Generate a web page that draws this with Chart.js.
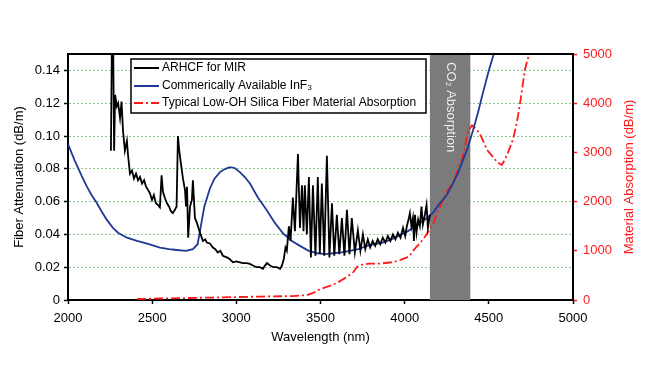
<!DOCTYPE html>
<html>
<head>
<meta charset="utf-8">
<script src="https://cdn.jsdelivr.net/npm/chart.js@4.4.0/dist/chart.umd.min.js"></script>
<style>
  body { margin: 0; background: #fff; }
  canvas { display: block; }
</style>
</head>
<body>
<canvas id="myChart" width="650" height="371"></canvas>
<script>
/*------------------------------DATA--------------------------------------------*/

// ARHCF for MIR (left axis, dB/m)
const arhcfWl = [2255,2261,2268,2274,2280,2290,2298,2309,2318,2327,2338,2350,2356,2368,2380,2392,2404,2416,2428,2440,2452,2464,2476,2487,2499,2510,2522,2534,2546,2556,2564,2576,2588,2600,2612,2623,2635,2645,2653,2660,2671,2683,2695,2701,2707,2714,2725,2736,2742,2754,2766,2784,2802,2815,2825,2843,2861,2875,2890,2905,2920,2944,2960,2980,3000,3021,3040,3063,3080,3099,3120,3140,3158,3170,3182,3200,3220,3241,3260,3271,3282,3292,3300,3312,3322,3336,3348,3366,3378,3390,3399,3407,3419,3431,3443,3455,3470,3484,3496,3508,3522,3538,3553,3568,3582,3597,3612,3627,3642,3657,3672,3686,3704,3722,3737,3752,3766,3781,3795,3810,3825,3840,3855,3870,3885,3900,3915,3930,3945,3960,3975,3990,4003,4013,4025,4031,4040,4049,4055,4061,4070,4080,4090,4100,4108,4120,4130,4138,4150];
const arhcfAtt = [0.091,0.16,0.16,0.091,0.125,0.118,0.12,0.111,0.121,0.103,0.091,0.097,0.089,0.077,0.079,0.074,0.077,0.073,0.075,0.071,0.073,0.069,0.067,0.065,0.061,0.064,0.059,0.058,0.0565,0.076,0.066,0.062,0.059,0.057,0.054,0.053,0.055,0.057,0.100,0.092,0.083,0.074,0.067,0.057,0.069,0.038,0.057,0.061,0.073,0.050,0.047,0.041,0.036,0.037,0.035,0.0345,0.032,0.031,0.029,0.030,0.027,0.026,0.025,0.023,0.0235,0.023,0.0225,0.0225,0.022,0.021,0.020,0.020,0.019,0.021,0.0225,0.021,0.020,0.020,0.019,0.021,0.025,0.032,0.030,0.045,0.036,0.0625,0.042,0.089,0.044,0.070,0.042,0.070,0.040,0.075,0.026,0.070,0.027,0.075,0.028,0.071,0.027,0.088,0.026,0.059,0.027,0.052,0.028,0.050,0.027,0.055,0.028,0.050,0.029,0.0425,0.030,0.040,0.031,0.037,0.032,0.036,0.033,0.037,0.034,0.038,0.035,0.039,0.036,0.040,0.037,0.041,0.038,0.044,0.039,0.045,0.050,0.053,0.045,0.050,0.036,0.052,0.041,0.049,0.045,0.057,0.046,0.052,0.058,0.044,0.052];

// Commercially available InF3 (left axis, dB/m)
const inf3Wl = [2000,2040,2080,2113,2140,2172,2200,2230,2267,2297,2350,2410,2480,2546,2600,2647,2700,2742,2770,2784,2810,2843,2870,2903,2935,2962,2990,3021,3050,3081,3128,3182,3229,3277,3330,3378,3430,3484,3530,3574,3625,3674,3725,3775,3820,3870,3920,3971,4020,4072,4120,4167,4209,4250,4286,4315,4345,4375,4405,4435,4464,4500,4535];
const inf3Att = [0.095,0.085,0.076,0.069,0.064,0.059,0.054,0.049,0.044,0.041,0.038,0.036,0.034,0.032,0.031,0.0305,0.030,0.031,0.034,0.042,0.057,0.068,0.074,0.078,0.080,0.081,0.0805,0.078,0.075,0.071,0.0625,0.0546,0.047,0.0407,0.036,0.033,0.030,0.0285,0.028,0.0285,0.029,0.030,0.031,0.033,0.034,0.035,0.037,0.0395,0.042,0.0455,0.049,0.053,0.059,0.064,0.071,0.077,0.085,0.093,0.103,0.114,0.126,0.140,0.152];

// Typical low-OH silica material absorption (right axis, dB/m)
const silicaWl = [2410,2550,2707,2850,3003,3150,3336,3419,3460,3497,3550,3597,3657,3693,3720,3734,3790,3853,3930,3971,4010,4031,4049,4070,4090,4108,4130,4150,4170,4190,4210,4227,4250,4287,4310,4345,4360,4375,4400,4429,4450,4464,4490,4524,4550,4577,4595,4613,4642,4660,4672,4690,4714,4738,4750];
const silicaAbs = [20,30,40,50,60,70,80,100,150,220,280,345,470,560,680,710,740,740,770,810,860,900,1000,1080,1150,1230,1330,1450,1560,1750,1900,2030,2200,2380,2600,2910,3150,3420,3550,3460,3350,3250,3050,2910,2800,2745,2850,2990,3250,3500,3720,4100,4680,4980,5100];

const seriesLabels = [
    'ARHCF for MIR',
    'Commerically Available InF\u2083',
    'Typical Low-OH Silica Fiber Material Absorption'
];

const co2Band = [4150, 4390];
const co2Label = 'CO\u2082 Absorption';

const xTicks = [2000, 2500, 3000, 3500, 4000, 4500, 5000];

/*------------------------------CHART--------------------------------------------*/

const toPoints = (xs, ys) => xs.map((x, i) => ({ x: x, y: ys[i] }));

Chart.defaults.font.family = "'Liberation Sans', Arial, sans-serif";
Chart.defaults.font.size = 13;
Chart.defaults.color = '#000';

const extras = {
    id: 'extras',
    beforeDatasetsDraw(chart) {
        const { ctx, chartArea, scales } = chart;
        const x1 = scales.x.getPixelForValue(co2Band[0]);
        const x2 = scales.x.getPixelForValue(co2Band[1]);
        ctx.save();
        ctx.fillStyle = '#7b7b7b';
        ctx.fillRect(x1, chartArea.top, x2 - x1, chartArea.bottom - chartArea.top);
        ctx.translate((x1 + x2) / 2, chartArea.top + 8);
        ctx.rotate(Math.PI / 2);
        ctx.fillStyle = '#ececec';
        ctx.font = "13px 'Liberation Sans', Arial";
        ctx.textAlign = 'left';
        ctx.textBaseline = 'middle';
        ctx.fillText(co2Label, 0, 0);
        ctx.restore();
    },
    afterDraw(chart) {
        const { ctx, chartArea } = chart;
        ctx.save();
        // top frame line
        ctx.strokeStyle = '#000';
        ctx.lineWidth = 2;
        ctx.beginPath();
        ctx.moveTo(chartArea.left, chartArea.top);
        ctx.lineTo(chartArea.right, chartArea.top);
        ctx.stroke();

        // right axis title, reading upward
        ctx.translate(629, (chartArea.top + chartArea.bottom) / 2);
        ctx.rotate(-Math.PI / 2);
        ctx.fillStyle = '#ff1a1a';
        ctx.font = "13px 'Liberation Sans', Arial";
        ctx.textAlign = 'center';
        ctx.textBaseline = 'middle';
        ctx.fillText('Material Absorption (dB/m)', 0, 0);
        ctx.restore();

        // legend box
        ctx.save();
        const bx = 131, by = 59, bw = 295, bh = 54;
        ctx.fillStyle = '#fff';
        ctx.fillRect(bx, by, bw, bh);
        ctx.font = "12px 'Liberation Sans', Arial";
        ctx.textBaseline = 'middle';
        const rows = [68, 86, 103];
        chart.data.datasets.forEach((ds, i) => {
            ctx.strokeStyle = ds.borderColor;
            ctx.lineWidth = 2;
            ctx.setLineDash(ds.borderDash || []);
            ctx.beginPath();
            ctx.moveTo(134, rows[i]);
            ctx.lineTo(159, rows[i]);
            ctx.stroke();
            ctx.setLineDash([]);
            ctx.fillStyle = '#000';
            ctx.fillText(ds.label, 162, rows[i]);
        });
        ctx.strokeStyle = '#000';
        ctx.lineWidth = 1.5;
        ctx.strokeRect(bx, by, bw, bh);
        ctx.restore();
    }
};

const data = {
    datasets: [{
        label: seriesLabels[0],
        data: toPoints(arhcfWl, arhcfAtt),
        borderColor: '#000000',
        borderWidth: 1.8,
        yAxisID: 'y'
    }, {
        label: seriesLabels[1],
        data: toPoints(inf3Wl, inf3Att),
        borderColor: '#1c3a96',
        borderWidth: 1.8,
        yAxisID: 'y'
    }, {
        label: seriesLabels[2],
        data: toPoints(silicaWl, silicaAbs),
        borderColor: '#ff1a1a',
        borderWidth: 1.8,
        borderDash: [9, 3, 2, 3],
        yAxisID: 'y2'
    }]
};

const config = {
    type: 'line',
    data: data,
    options: {
        responsive: false,
        animation: false,
        layout: { padding: { top: 54 } },
        elements: { point: { radius: 0 }, line: { tension: 0 } },
        plugins: { legend: { display: false }, tooltip: { enabled: false } },
        scales: {
            x: {
                type: 'linear',
                min: 2000,
                max: 5000,
                afterFit: s => { s.height = 71; },
                afterBuildTicks: s => { s.ticks = xTicks.map(v => ({ value: v })); },
                ticks: { padding: 7, font: { size: 13 }, callback: v => String(v) },
                grid: { drawOnChartArea: false, tickLength: 4, tickColor: '#000', tickWidth: 1.5 },
                border: { color: '#000', width: 2 },
                title: { display: true, text: 'Wavelength (nm)', font: { size: 13 }, padding: { top: 0, bottom: 26 } }
            },
            y: {
                position: 'left',
                min: 0,
                max: 0.15,
                afterFit: s => { s.width = 68; },
                ticks: {
                    stepSize: 0.02,
                    includeBounds: false,
                    padding: 4,
                    callback: v => v === 0 ? '0' : v.toFixed(2)
                },
                grid: {
                    color: c => c.tick && c.tick.value > 0 ? '#8fc98f' : 'rgba(0,0,0,0)',
                    lineWidth: 1,
                    tickLength: 4,
                    tickColor: '#000',
                    tickWidth: 1.5
                },
                border: { color: '#000', width: 2, dash: [2, 2] },
                title: { display: true, text: 'Fiber Attenuation (dB/m)', padding: { top: 12, bottom: 0 } }
            },
            y2: {
                position: 'right',
                min: 0,
                max: 5000,
                afterFit: s => { s.width = 77; },
                ticks: { stepSize: 1000, padding: 6, color: '#ff1a1a', callback: v => String(v) },
                grid: { drawOnChartArea: false, tickLength: 4, tickColor: '#ff1a1a', tickWidth: 1.5 },
                border: { color: '#000', width: 2 }
            }
        }
    }
};

const myChart = new Chart(
    document.getElementById('myChart'),
    { ...config, plugins: [extras] }
);
</script>
</body>
</html>
